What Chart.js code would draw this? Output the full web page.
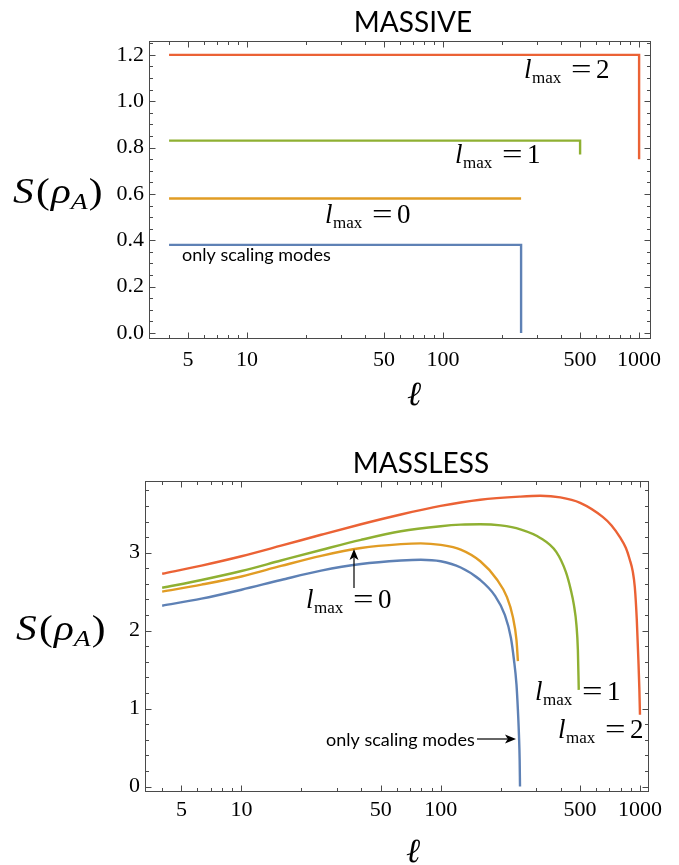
<!DOCTYPE html>
<html><head><meta charset="utf-8">
<script src="https://cdn.jsdelivr.net/npm/chart.js@4/dist/chart.umd.min.js"></script>
<style>
html,body{margin:0;padding:0;background:#fff;width:679px;height:865px;overflow:hidden}
canvas{position:absolute;left:0}
#c1{top:0}
#c2{top:440px}
</style></head><body>
<canvas id="c1" width="679" height="440"></canvas>
<canvas id="c2" width="679" height="425"></canvas>
<script>
// ---------- data: MASSIVE ----------
const massiveScalingL = [4, 250, 250];
const massiveScalingS = [0.38, 0.38, 0];
const massiveL0L = [4, 250];
const massiveL0S = [0.58, 0.58];
const massiveL1L = [4, 500, 500];
const massiveL1S = [0.83, 0.83, 0.77];
const massiveL2L = [4, 1000, 1000];
const massiveL2S = [1.2, 1.2, 0.75];

// ---------- data: MASSLESS ----------
const masslessScalingL = [4, 6.3, 10, 15.8, 25.1, 39.8, 63.1, 79.4, 100, 126, 158, 187, 210, 225, 233, 240, 244, 247, 249, 250];
const masslessScalingS = [2.32, 2.41, 2.525, 2.65, 2.77, 2.855, 2.90, 2.91, 2.89, 2.81, 2.65, 2.45, 2.20, 1.91, 1.63, 1.31, 0.98, 0.66, 0.34, 0];
const masslessL0L = [4, 6.3, 10, 15.8, 25.1, 39.8, 63.1, 79.4, 100, 126, 158, 191, 215, 230, 240, 244];
const masslessL0S = [2.50, 2.59, 2.695, 2.83, 2.96, 3.06, 3.11, 3.12, 3.10, 3.04, 2.89, 2.66, 2.43, 2.18, 1.88, 1.61];
const masslessL1L = [4, 6.3, 10, 15.8, 25.1, 39.8, 63.1, 100, 126, 158, 200, 251, 316, 380, 425, 450, 466, 480, 488, 493];
const masslessL1S = [2.55, 2.65, 2.765, 2.90, 3.035, 3.165, 3.275, 3.34, 3.36, 3.365, 3.35, 3.30, 3.19, 3.01, 2.75, 2.52, 2.33, 2.07, 1.75, 1.24];
const masslessL2L = [4, 6.3, 10, 15.8, 25.1, 39.8, 63.1, 100, 158, 251, 316, 398, 501, 650, 720, 793, 850, 889, 920, 942, 964, 982, 993, 1000];
const masslessL2S = [2.73, 2.835, 2.955, 3.09, 3.23, 3.365, 3.49, 3.60, 3.68, 3.72, 3.73, 3.71, 3.64, 3.46, 3.35, 3.20, 3.06, 2.91, 2.76, 2.56, 2.14, 1.62, 1.25, 0.92];

// ---------- ticks ----------
const xTickValues = [5, 10, 50, 100, 500, 1000];
const xMinorValues = [4,6,7,8,9,20,30,40,60,70,80,90,200,300,400,600,700,800,900];
const massiveYTicks = [0, 0.2, 0.4, 0.6, 0.8, 1.0, 1.2];
const massiveYMinor = [0.05,0.1,0.15,0.25,0.3,0.35,0.45,0.5,0.55,0.65,0.7,0.75,0.85,0.9,0.95,1.05,1.1,1.15,1.25];
const masslessYTicks = [0, 1, 2, 3];
const masslessYMinor = [0.2,0.4,0.6,0.8,1.2,1.4,1.6,1.8,2.2,2.4,2.6,2.8,3.2,3.4,3.6,3.8];

const seriesColors = ['#5E81B5', '#E19C24', '#8FB032', '#EB6235'];
const SERIF = '"Liberation Serif","DejaVu Serif",serif';
const SANS = 'Lato,"Open Sans",sans-serif';

function ds(L, S, color, smooth) {
  return {
    data: L.map((l, i) => ({x: l, y: S[i]})),
    borderColor: color, borderWidth: 2.4, showLine: true, pointRadius: 0,
    fill: false, cubicInterpolationMode: smooth ? 'monotone' : 'default', tension: 0
  };
}

function framePlugin(yMajor, yMinor) {
  return {
    id: 'frameTicks',
    beforeDatasetsDraw(chart) {
      const {ctx, chartArea: a, scales: {x, y}} = chart;
      ctx.save();
      ctx.strokeStyle = '#4a4a4a';
      ctx.lineWidth = 1;
      const L = Math.round(a.left) + 0.5, R = Math.round(a.right) - 0.5;
      const T = Math.round(a.top) + 0.5, B = Math.round(a.bottom) - 0.5;
      ctx.strokeRect(L, T, R - L, B - T);
      ctx.beginPath();
      const tx = (v, len) => { const p = Math.round(x.getPixelForValue(v)) + 0.5;
        ctx.moveTo(p, B); ctx.lineTo(p, B - len); ctx.moveTo(p, T); ctx.lineTo(p, T + len); };
      const ty = (v, len) => { const p = Math.round(y.getPixelForValue(v)) + 0.5;
        ctx.moveTo(L, p); ctx.lineTo(L + len, p); ctx.moveTo(R, p); ctx.lineTo(R - len, p); };
      xTickValues.forEach(v => tx(v, 6));
      xMinorValues.forEach(v => tx(v, 3.5));
      yMajor.forEach(v => ty(v, 6));
      yMinor.forEach(v => ty(v, 3.5));
      ctx.stroke();
      ctx.restore();
    }
  };
}

function lmax(ctx, x, base, digit) {
  ctx.save();
  ctx.fillStyle = '#000';
  ctx.textAlign = 'left';
  ctx.textBaseline = 'alphabetic';
  ctx.font = 'italic 27px ' + SERIF;
  ctx.fillText('l', x, base);
  ctx.font = '17px ' + SERIF;
  ctx.fillText('max', x + 8, base + 5);
  ctx.font = '27px ' + SERIF;
  ctx.save(); ctx.translate(x + 47, base); ctx.scale(1.35, 1); ctx.fillText('=', 0, 0); ctx.restore();
  ctx.fillText(digit, x + 72, base);
  ctx.restore();
}

function arrow(ctx, x1, y1, x2, y2) {
  ctx.save();
  ctx.strokeStyle = '#000'; ctx.fillStyle = '#000'; ctx.lineWidth = 1.2;
  const ang = Math.atan2(y2 - y1, x2 - x1);
  const hl = 11, hw = 4.5;
  const bx = x2 - hl * 0.75 * Math.cos(ang), by = y2 - hl * 0.75 * Math.sin(ang);
  ctx.beginPath(); ctx.moveTo(x1, y1); ctx.lineTo(bx, by); ctx.stroke();
  ctx.beginPath();
  ctx.moveTo(x2, y2);
  ctx.lineTo(x2 - hl * Math.cos(ang) + hw * Math.sin(ang), y2 - hl * Math.sin(ang) - hw * Math.cos(ang));
  ctx.lineTo(bx, by);
  ctx.lineTo(x2 - hl * Math.cos(ang) - hw * Math.sin(ang), y2 - hl * Math.sin(ang) + hw * Math.cos(ang));
  ctx.closePath(); ctx.fill();
  ctx.restore();
}

function drawYTitle(ctx, x, base) {
  ctx.save();
  ctx.fillStyle = '#000';
  ctx.textAlign = 'left'; ctx.textBaseline = 'alphabetic';
  ctx.translate(x, base); ctx.scale(1.15, 1);
  let cx = 0;
  ctx.font = 'italic 36px ' + SERIF; ctx.fillText('S', cx, 0); cx += ctx.measureText('S').width + 2;
  ctx.font = '36px ' + SERIF; ctx.fillText('(', cx, 0); cx += ctx.measureText('(').width + 1;
  ctx.font = 'italic 36px ' + SERIF; ctx.fillText('ρ', cx, 0); cx += ctx.measureText('ρ').width;
  ctx.font = 'italic 24px ' + SERIF; ctx.fillText('A', cx, 6); cx += ctx.measureText('A').width + 1;
  ctx.font = '36px ' + SERIF; ctx.fillText(')', cx, 0);
  ctx.restore();
}

function textPlugin(drawFn) {
  return { id: 'texts', afterDraw(chart) { drawFn(chart.ctx, chart); } };
}

function makeChart(canvas, datasets, cfg) {
  return new Chart(canvas, {
    type: 'scatter',
    data: { datasets },
    options: {
      responsive: false, animation: false, devicePixelRatio: 1,
      layout: { padding: { top: cfg.top, right: cfg.right, left: 0, bottom: 0 } },
      plugins: { legend: { display: false }, tooltip: { enabled: false }, title: { display: false } },
      scales: {
        x: {
          type: 'logarithmic', min: cfg.xmin, max: cfg.xmax,
          grid: { display: false, drawTicks: false }, border: { display: false },
          afterBuildTicks: s => { s.ticks = xTickValues.map(v => ({ value: v })); },
          afterFit: s => { s.height = cfg.xh; },
          ticks: { autoSkip: false, maxRotation: 0, padding: cfg.xpad, color: '#000',
                   font: { family: SERIF, size: 22 }, callback: v => String(v) }
        },
        y: {
          type: 'linear', min: cfg.ymin, max: cfg.ymax,
          grid: { display: false, drawTicks: false }, border: { display: false },
          afterBuildTicks: s => { s.ticks = cfg.yticks.map(v => ({ value: v })); },
          afterFit: s => { s.width = cfg.yw; },
          ticks: { autoSkip: false, padding: 5, color: '#000',
                   font: { family: SERIF, size: 22 }, callback: cfg.yfmt }
        }
      }
    },
    plugins: [framePlugin(cfg.yticks, cfg.yminor), textPlugin(cfg.draw)]
  });
}

// ---------- top chart: MASSIVE ----------
makeChart(document.getElementById('c1'), [
  ds(massiveScalingL, massiveScalingS, seriesColors[0], false),
  ds(massiveL0L, massiveL0S, seriesColors[1], false),
  ds(massiveL1L, massiveL1S, seriesColors[2], false),
  ds(massiveL2L, massiveL2S, seriesColors[3], false)
], {
  top: 41, right: 28, xh: 101, yw: 149, xpad: 8,
  xmin: 3.16, xmax: 1150, ymin: -0.026, ymax: 1.26,
  yticks: massiveYTicks, yminor: massiveYMinor, yfmt: v => v.toFixed(1),
  draw: (ctx) => {
    ctx.save();
    ctx.fillStyle = '#000'; ctx.textAlign = 'center'; ctx.textBaseline = 'alphabetic';
    ctx.font = '28px ' + SANS; ctx.fillText('MASSIVE', 413, 32);
    ctx.font = 'italic 34px ' + SERIF; ctx.fillText('ℓ', 414, 405);
    ctx.textAlign = 'left'; ctx.textBaseline = 'middle';
    ctx.font = '18px ' + SANS; ctx.fillText('only scaling modes', 182, 255);
    ctx.restore();
    drawYTitle(ctx, 13, 203);
    lmax(ctx, 524, 78, '2');
    lmax(ctx, 455, 163, '1');
    lmax(ctx, 325, 223, '0');
  }
});

// ---------- bottom chart: MASSLESS ----------
const OFF = 440;
makeChart(document.getElementById('c2'), [
  ds(masslessScalingL, masslessScalingS, seriesColors[0], true),
  ds(masslessL0L, masslessL0S, seriesColors[1], true),
  ds(masslessL1L, masslessL1S, seriesColors[2], true),
  ds(masslessL2L, masslessL2S, seriesColors[3], true)
], {
  top: 41, right: 30, xh: 73, yw: 145, xpad: 5,
  xmin: 3.28, xmax: 1110, ymin: -0.07, ymax: 3.92,
  yticks: masslessYTicks, yminor: masslessYMinor, yfmt: v => String(v),
  draw: (ctx) => {
    ctx.save();
    ctx.fillStyle = '#000'; ctx.textAlign = 'center'; ctx.textBaseline = 'alphabetic';
    ctx.font = '28px ' + SANS; ctx.fillText('MASSLESS', 421, 473 - OFF);
    ctx.font = 'italic 34px ' + SERIF; ctx.fillText('ℓ', 413, 862 - OFF);
    ctx.textAlign = 'left'; ctx.textBaseline = 'middle';
    ctx.font = '18px ' + SANS; ctx.fillText('only scaling modes', 326, 740 - OFF);
    ctx.restore();
    drawYTitle(ctx, 16, 640 - OFF);
    lmax(ctx, 306, 608 - OFF, '0');
    lmax(ctx, 535, 700 - OFF, '1');
    lmax(ctx, 558, 738 - OFF, '2');
    arrow(ctx, 354, 588 - OFF, 354, 549 - OFF);
    arrow(ctx, 477, 739 - OFF, 516, 739 - OFF);
  }
});
</script>
</body></html>
